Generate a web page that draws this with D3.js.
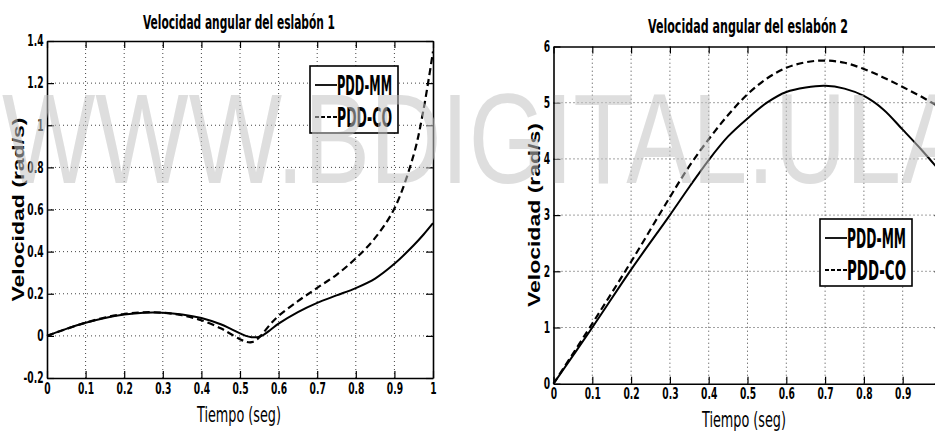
<!DOCTYPE html>
<html>
<head>
<meta charset="utf-8">
<script src="https://cdn.jsdelivr.net/npm/d3@7"></script>
<style>
  body { margin: 0; background: #fff; }
  svg { display: block; }
  .tick text { font-family: "DejaVu Sans Condensed", "Liberation Sans", sans-serif; font-weight: bold; font-size: 15px; fill: #000; }
  .tick line { stroke: #000; stroke-width: 1.2; }
  .domain { stroke: #000; stroke-width: 1.6; }
  .rejilla line { stroke: #444; stroke-width: 1; stroke-dasharray: 1 3; }
</style>
</head>
<body>
<div id="okvir"></div>
<script>
// podaci - grafika 1 (eslabon 1)
const tiempo1 = [0, 0.05, 0.1, 0.15, 0.2, 0.25, 0.3, 0.35, 0.4, 0.45, 0.475, 0.5, 0.515, 0.53, 0.545, 0.56, 0.58, 0.6, 0.65, 0.7, 0.75, 0.8, 0.85, 0.9, 0.95, 0.975, 1.0]
const pddMM1 = [0, 0.033, 0.062, 0.085, 0.101, 0.11, 0.11, 0.102, 0.085, 0.055, 0.034, 0.012, 0.0, -0.006, -0.006, 0.004, 0.03, 0.058, 0.113, 0.157, 0.192, 0.227, 0.272, 0.342, 0.43, 0.48, 0.535]
const pddCO1 = [0, 0.033, 0.063, 0.087, 0.104, 0.112, 0.11, 0.098, 0.074, 0.036, 0.01, -0.016, -0.028, -0.03, -0.016, 0.014, 0.058, 0.095, 0.165, 0.228, 0.29, 0.368, 0.465, 0.605, 0.86, 1.07, 1.35]

// podaci - grafika 2 (eslabon 2)
const tiempo2 = [0, 0.1, 0.2, 0.3, 0.35, 0.4, 0.45, 0.5, 0.55, 0.6, 0.65, 0.7, 0.75, 0.8, 0.85, 0.9, 0.95, 1.0]
const pddMM2 = [0, 1.0, 2.03, 3.0, 3.5, 3.98, 4.4, 4.72, 5.0, 5.19, 5.27, 5.3, 5.25, 5.12, 4.88, 4.52, 4.15, 3.75]
const pddCO2 = [0, 1.07, 2.17, 3.32, 3.87, 4.35, 4.78, 5.15, 5.43, 5.62, 5.72, 5.75, 5.71, 5.6, 5.45, 5.28, 5.1, 4.9]

const xTicks = [0, 0.1, 0.2, 0.3, 0.4, 0.5, 0.6, 0.7, 0.8, 0.9, 1]
const yTicks1 = [-0.2, 0, 0.2, 0.4, 0.6, 0.8, 1, 1.2, 1.4]
const yTicks2 = [0, 1, 2, 3, 4, 5, 6]
const leyenda = ["PDD-MM", "PDD-CO"]
const titulos = ["Velocidad angular del eslabón 1", "Velocidad angular del eslabón 2"]

const okvir = d3.select("#okvir")
  .append("svg")
    .attr("width", 935)
    .attr("height", 436)

const uska = '"DejaVu Sans Condensed", "Liberation Sans", sans-serif'

function crtajGraf(cfg) {
  const xSkala = d3.scaleLinear().domain([0, 1]).range([cfg.x0, cfg.x1])
  const ySkala = d3.scaleLinear().domain(cfg.yDomain).range([cfg.y0, cfg.y1])
  const g = okvir.append("g")

  // rejilla
  const rej = g.append("g").attr("class", "rejilla")
  rej.selectAll(".vx").data(xTicks.slice(1, -1)).join("line")
      .attr("x1", d => xSkala(d)).attr("x2", d => xSkala(d))
      .attr("y1", cfg.y0).attr("y2", cfg.y1)
  rej.selectAll(".hy").data(cfg.yTicks.slice(1, -1)).join("line")
      .attr("class", "hy")
      .attr("x1", cfg.x0).attr("x2", cfg.x1)
      .attr("y1", d => ySkala(d)).attr("y2", d => ySkala(d))

  // linije
  const linija = d3.line()
    .x((d, i) => xSkala(cfg.t[i]))
    .y(d => ySkala(d))
    .curve(d3.curveCatmullRom.alpha(0.5))

  g.append("path")
      .attr("d", linija(cfg.mm))
      .attr("fill", "none").attr("stroke", "#000").attr("stroke-width", 2)
  g.append("path")
      .attr("d", linija(cfg.co))
      .attr("fill", "none").attr("stroke", "#000").attr("stroke-width", 2.2)
      .attr("stroke-dasharray", "7 4")

  // osi
  const fmt = d => String(d)
  const suzi = sel => sel.selectAll(".tick text").attr("transform", "scale(0.68,1)")
  g.append("g")
      .attr("transform", `translate(0,${cfg.y0})`)
      .call(d3.axisBottom(xSkala).tickValues(xTicks).tickFormat(fmt).tickSizeInner(-7).tickSizeOuter(0).tickPadding(5))
      .call(suzi)
  g.append("g")
      .attr("transform", `translate(0,${cfg.y1})`)
      .call(d3.axisTop(xSkala).tickValues(xTicks).tickFormat("").tickSizeInner(-7).tickSizeOuter(0))
  g.append("g")
      .attr("transform", `translate(${cfg.x0},0)`)
      .call(d3.axisLeft(ySkala).tickValues(cfg.yTicks).tickFormat(fmt).tickSizeInner(-7).tickSizeOuter(0).tickPadding(5))
      .call(suzi)
  g.append("g")
      .attr("transform", `translate(${cfg.x1},0)`)
      .call(d3.axisRight(ySkala).tickValues(cfg.yTicks).tickFormat("").tickSizeInner(-7).tickSizeOuter(0))

  // naslov i oznake
  g.append("text")
      .attr("x", cfg.tituloX).attr("y", cfg.tituloY)
      .attr("text-anchor", "middle")
      .attr("textLength", cfg.tituloW).attr("lengthAdjust", "spacingAndGlyphs")
      .style("font-family", uska).style("font-weight", "bold").style("font-size", "19px")
      .text(cfg.titulo)
  g.append("text")
      .attr("x", cfg.xLabX).attr("y", cfg.xLabY)
      .attr("text-anchor", "middle")
      .attr("textLength", 84).attr("lengthAdjust", "spacingAndGlyphs")
      .style("font-family", uska).style("font-size", "21px")
      .text("Tiempo (seg)")
  g.append("text")
      .attr("transform", `translate(${cfg.yLabX},${(cfg.y0 + cfg.y1) / 2}) rotate(-90)`)
      .attr("text-anchor", "middle")
      .attr("textLength", 184).attr("lengthAdjust", "spacingAndGlyphs")
      .style("font-family", "'Liberation Sans', Arial, sans-serif").style("font-weight", "bold").style("font-size", "17px")
      .text("Velocidad (rad/s)")

  // legenda
  const lg = g.append("g").attr("transform", `translate(${cfg.leg[0]},${cfg.leg[1]})`)
  lg.append("rect")
      .attr("width", cfg.leg[2]).attr("height", 67)
      .attr("fill", "#fff").attr("stroke", "#000").attr("stroke-width", 1.6)
  leyenda.forEach((naziv, i) => {
    const yy = 19 + i * 32
    lg.append("line")
        .attr("x1", 5).attr("x2", 27).attr("y1", yy).attr("y2", yy)
        .attr("stroke", "#000").attr("stroke-width", 1.8)
        .attr("stroke-dasharray", i === 0 ? null : "4 2")
    lg.append("text")
        .attr("x", 27).attr("y", yy + 10)
        .attr("textLength", cfg.leg[2] - 33).attr("lengthAdjust", "spacingAndGlyphs")
        .style("font-family", uska).style("font-weight", "bold").style("font-size", "27px")
        .text(naziv)
  })
}

crtajGraf({
  x0: 47, x1: 433, y0: 378, y1: 41,
  yDomain: [-0.2, 1.4], yTicks: yTicks1,
  t: tiempo1, mm: pddMM1, co: pddCO1,
  titulo: titulos[0], tituloX: 239, tituloY: 29, tituloW: 192,
  xLabX: 239, xLabY: 422, yLabX: 24,
  leg: [310, 66, 88]
})

crtajGraf({
  x0: 553.5, x1: 941.5, y0: 383.7, y1: 46.5,
  yDomain: [0, 6], yTicks: yTicks2,
  t: tiempo2, mm: pddMM2, co: pddCO2,
  titulo: titulos[1], tituloX: 748, tituloY: 33, tituloW: 200,
  xLabX: 744, xLabY: 427, yLabX: 540,
  leg: [820, 219, 92]
})

// vodeni zig
okvir.append("text")
    .attr("x", 2).attr("y", 183)
    .attr("textLength", 965).attr("lengthAdjust", "spacingAndGlyphs")
    .style("font-family", "'Liberation Sans', Arial, sans-serif")
    .style("font-size", "128px")
    .style("fill", "#c4c4c4").style("opacity", 0.55)
    .text("WWW.BDIGITAL.ULA")
</script>
</body>
</html>
